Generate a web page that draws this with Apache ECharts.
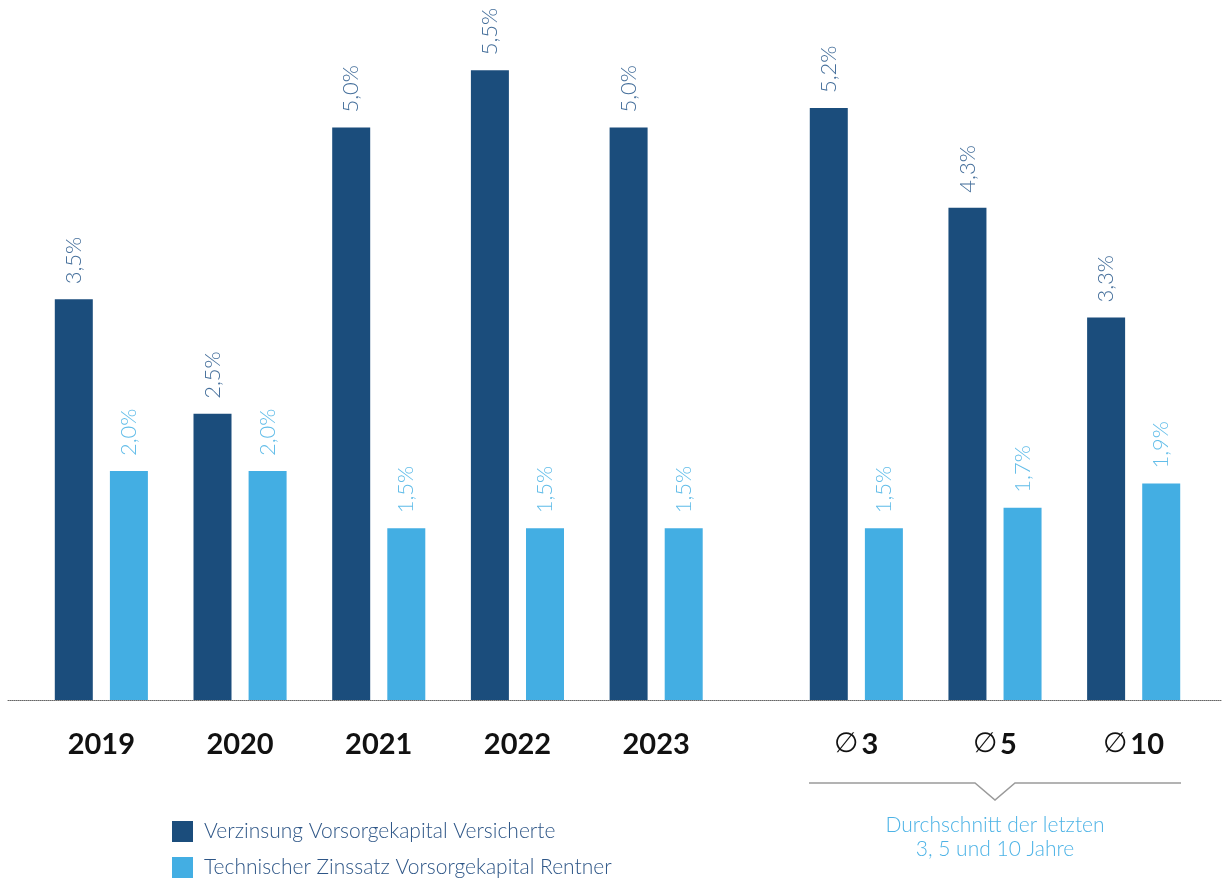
<!DOCTYPE html>
<html>
<head>
<meta charset="utf-8">
<script src="https://cdn.jsdelivr.net/npm/echarts@6/dist/echarts.min.js"></script>
<style>
  html, body { margin: 0; padding: 0; background: #fff; }
  #chart { width: 1222px; height: 879px; }
</style>
</head>
<body>
<div id="chart"></div>
<script>
const yearLabels = ['2019', '2020', '2021', '2022', '2023']
const avgLabels = ['3', '5', '10']
const versicherteYears = [3.5, 2.5, 5.0, 5.5, 5.0]
const rentnerYears = [2.0, 2.0, 1.5, 1.5, 1.5]
const versicherteAvg = [5.17, 4.3, 3.34]
const rentnerAvg = [1.5, 1.68, 1.89]
const seriesNames = ['Verzinsung Vorsorgekapital Versicherte', 'Technischer Zinssatz Vorsorgekapital Rentner']

const DARK = '#1b4d7c'
const LIGHT = '#43aee3'
const DARK_LABEL = '#456f9b'
const LIGHT_LABEL = '#62bde9'
const FONT = 'Lato, "Noto Sans", sans-serif'

const chart = echarts.init(document.getElementById('chart'))

function barSeries(name, data, color, labelColor, axisIndex) {
  return {
    name,
    type: 'bar',
    xAxisIndex: axisIndex,
    yAxisIndex: axisIndex,
    data,
    barWidth: 38,
    barGap: '45%',
    itemStyle: { color },
    label: {
      show: true,
      position: 'top',
      rotate: 90,
      align: 'left',
      verticalAlign: 'middle',
      distance: 15,
      color: labelColor,
      fontFamily: FONT,
      fontWeight: 300,
      fontSize: 22,
      formatter: p => p.value.toFixed(1).replace('.', ',') + '%'
    }
  }
}

const catAxis = (data, gridIndex, extra) => ({
  type: 'category',
  gridIndex,
  data,
  axisLine: { show: false },
  axisTick: { show: false },
  axisLabel: {
    interval: 0,
    margin: 30,
    color: '#111',
    fontFamily: FONT,
    fontWeight: 'bold',
    fontSize: 29,
    ...(extra || {})
  }
})

const valAxis = gridIndex => ({
  type: 'value',
  gridIndex,
  min: 0,
  max: 6,
  show: false,
  splitLine: { show: false }
})

const legendItem = (name, top) => ({
  data: [name],
  orient: 'vertical',
  left: 172,
  top,
  padding: 0,
  itemWidth: 21,
  itemHeight: 21,
  icon: 'rect',
  selectedMode: false,
  textStyle: { color: '#2e5687', fontFamily: FONT, fontWeight: 300, fontSize: 21, padding: [0, 0, 0, 6] }
})

chart.setOption({
  backgroundColor: '#fff',
  animation: false,
  grid: [
    { left: 32, width: 693.5, top: 13, bottom: 179 },
    { left: 787, width: 416, top: 13, bottom: 179 },
    { left: 8, right: 0, top: 13, bottom: 179 }
  ],
  xAxis: [
    catAxis(yearLabels, 0),
    catAxis(avgLabels, 1, {
      formatter: v => '{d|\u2205}{n|' + v + '}',
      rich: {
        d: { fontFamily: '"DejaVu Sans"', fontWeight: 200, fontSize: 28, color: '#111', padding: [0, 3, 0, 0] },
        n: { fontFamily: FONT, fontWeight: 'bold', fontSize: 29, color: '#111' }
      }
    }),
    {
      type: 'value',
      gridIndex: 2,
      min: 0,
      max: 1,
      axisLine: { show: true, lineStyle: { color: '#666', type: 'dotted', width: 1 } },
      axisTick: { show: false },
      axisLabel: { show: false },
      splitLine: { show: false }
    }
  ],
  yAxis: [valAxis(0), valAxis(1), valAxis(2)],
  legend: [legendItem(seriesNames[0], 821), legendItem(seriesNames[1], 857)],
  graphic: [
    {
      type: 'polyline',
      shape: { points: [[809, 783], [975, 783], [995, 800], [1015, 783], [1181, 783]] },
      style: { stroke: '#9a9a9a', lineWidth: 1.5, fill: null }
    },
    {
      type: 'text',
      x: 995,
      y: 813,
      style: {
        text: 'Durchschnitt der letzten\n3, 5 und 10 Jahre',
        align: 'center',
        fill: '#4db3e6',
        font: '300 21px Lato, "Noto Sans", sans-serif',
        lineHeight: 24
      }
    }
  ],
  series: [
    barSeries(seriesNames[0], versicherteYears, DARK, DARK_LABEL, 0),
    barSeries(seriesNames[1], rentnerYears, LIGHT, LIGHT_LABEL, 0),
    barSeries(seriesNames[0], versicherteAvg, DARK, DARK_LABEL, 1),
    barSeries(seriesNames[1], rentnerAvg, LIGHT, LIGHT_LABEL, 1)
  ]
})
</script>
</body>
</html>
